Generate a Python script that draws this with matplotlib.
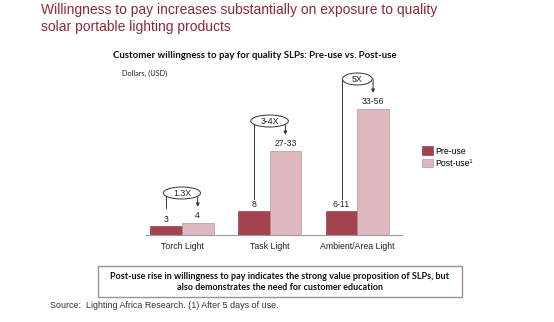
import numpy as np
import matplotlib.pyplot as plt
from matplotlib.patches import Rectangle, Ellipse

categories = ['Torch Light', 'Task Light', 'Ambient/Area Light']
pre_use = [3, 8, 8]          # bar heights, USD
post_use = [4, 28, 42]
pre_labels = ['3', '8', '6-11']
post_labels = ['4', '27-33', '33-56']
multipliers = ['1.3X', '3-4X', '5X']

PRE_COLOR = '#A3434F'
POST_COLOR = '#DDB9BF'
TITLE_COLOR = '#8E2A35'

W, H = 554, 322
fig = plt.figure(figsize=(W / 100, H / 100), dpi=100)


def fx(px):
    return px / W


def fy(py):
    return 1 - py / H


# main chart area (pixel box -> figure fraction)
ax = fig.add_axes([fx(146), fy(235), fx(402 - 146), (235 - 70) / H])
x = np.arange(len(categories))
bw = 0.36
ax.bar(x - bw / 2, pre_use, bw, color=PRE_COLOR, edgecolor='#7d2d37', lw=0.4, label='Pre-use')
ax.bar(x + bw / 2, post_use, bw, color=POST_COLOR, edgecolor='#a8848a', lw=0.4, label='Post-use\u00b9')
ax.set_xlim(-0.41, 2.51)
ax.set_ylim(0, 55)
for s in ['top', 'left', 'right']:
    ax.spines[s].set_visible(False)
ax.spines['bottom'].set_color('#9a9a9a')
ax.spines['bottom'].set_linewidth(0.8)
ax.set_yticks([])
ax.set_xticks(x)
ax.set_xticklabels(categories, fontsize=6.3, family='Liberation Sans', color='#222')
ax.tick_params(axis='x', length=0, pad=5)

# data units per pixel, for sizing the multiplier ellipses
ux = (2.51 + 0.41) / (402 - 146)
uy = 55 / (235 - 70)
renderer = fig.canvas.get_renderer()

txt = dict(fontsize=6.3, family='Liberation Sans', color='#222', ha='center', va='center')
for i in range(len(categories)):
    xl, xr = i - bw / 2, i + bw / 2
    ax.text(xl, pre_use[i] + 2.2, pre_labels[i], **txt)
    ax.text(xr, post_use[i] + 2.6, post_labels[i], **txt)
    ey = post_use[i] + 10
    # bracket from pre-use label up to the multiplier, arrow down to post-use
    ax.plot([xl, xl], [max(pre_use[i] + 3.9, 9), ey], color='#333', lw=0.7)
    ax.annotate('', xy=(xr, post_use[i] + 5.4), xytext=(xr, ey),
                arrowprops=dict(arrowstyle='-|>', color='#333', lw=0.7,
                                mutation_scale=5, shrinkA=0, shrinkB=0))
    t = ax.text(i, ey, multipliers[i], zorder=6, **txt)
    tw = t.get_window_extent(renderer).width
    ax.add_patch(Ellipse((i, ey), (tw + 19) * ux, 12 * uy, fc='white', ec='#333',
                         lw=0.7, zorder=5, clip_on=False))

fig.legend(loc='upper left', bbox_to_anchor=(fx(418), fy(143)), frameon=False,
           prop={'family': 'Liberation Sans', 'size': 6.3}, handlelength=1.3,
           handleheight=1.1, handletextpad=0.3, labelspacing=0.35, borderaxespad=0)

fig.text(fx(41), fy(3), 'Willingness to pay increases substantially on exposure to quality\n'
         'solar portable lighting products', fontsize=10, family='Liberation Sans',
         color=TITLE_COLOR, ha='left', va='top', linespacing=1.28)
fig.text(fx(255), fy(56), 'Customer willingness to pay for quality SLPs: Pre-use vs. Post-use',
         fontsize=6.9, family='Lato', weight='bold', color='#111', ha='center', va='center')
fig.text(fx(122), fy(73), 'Dollars, (USD)', fontsize=5.3, family='Lato', color='#222',
         ha='left', va='center')

fig.patches.append(Rectangle((fx(98), fy(297)), fx(462 - 98), (297 - 266) / H,
                             transform=fig.transFigure, fc='white', ec='#a09094', lw=1.0))
fig.text(fx(280), fy(282), 'Post-use rise in willingness to pay indicates the strong value proposition of SLPs, but\n'
         'also demonstrates the need for customer education', fontsize=6.5, family='Lato',
         weight='bold', color='#111', ha='center', va='center', linespacing=1.35)

fig.text(fx(50), fy(306), 'Source:  Lighting Africa Research. (1) After 5 days of use.',
         fontsize=6.4, family='Liberation Sans', color='#333', ha='left', va='center')

fig.savefig('out.png', dpi=100, facecolor='white')
